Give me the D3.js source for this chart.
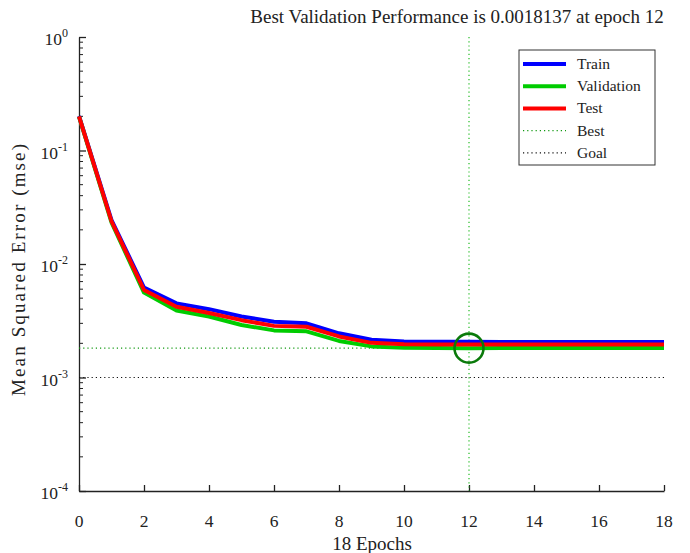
<!DOCTYPE html>
<html><head><meta charset="utf-8">
<script src="https://cdn.jsdelivr.net/npm/d3@7/dist/d3.min.js"></script>
<style>body{margin:0;background:#fff}svg{display:block}text{font-family:"Liberation Serif","Times New Roman",serif;fill:#222}</style>
</head><body><svg id="c" width="690" height="553"></svg>
<script>
const epochs = d3.range(0, 19);
const trainErr = [0.201, 0.0244, 0.0062, 0.0045, 0.0040, 0.00345, 0.0031, 0.0030, 0.00245, 0.00215, 0.00208, 0.00207, 0.00207, 0.00206, 0.00206, 0.00206, 0.00206, 0.00206, 0.00206];
const validErr = [0.199, 0.0232, 0.0056, 0.0039, 0.00345, 0.0029, 0.0026, 0.00255, 0.0021, 0.00188, 0.00183, 0.00182, 0.0018137, 0.00182, 0.00182, 0.00182, 0.00182, 0.00182, 0.00182];
const testErr  = [0.200, 0.0238, 0.0059, 0.0042, 0.0037, 0.0032, 0.00285, 0.0028, 0.0023, 0.00202, 0.00196, 0.00195, 0.00195, 0.00195, 0.00195, 0.00195, 0.00195, 0.00195, 0.00195];
const bestEpoch = 12, bestPerf = 0.0018137, goal = 0.001;
const xTicks = [0,2,4,6,8,10,12,14,16,18];
const yTicks = [1, 0.1, 0.01, 0.001, 0.0001];
const yExps = ["0","-1","-2","-3","-4"];
const seriesNames = ["Train","Validation","Test"];
const seriesColors = ["#0000ff","#00cc00","#ff0000"];

const svg = d3.select("#c");
const L = 79, R = 664, T = 37, B = 491;
const x = d3.scaleLinear().domain([0,18]).range([L,R]);
const y = d3.scaleLog().domain([1e-4,1]).range([B,T]);

// minor ticks
const minor = [];
for (let k=-4;k<0;k++) for (let j=2;j<=9;j++) minor.push(j*Math.pow(10,k));
svg.append("g").selectAll("line").data(minor).join("line")
  .attr("x1",L).attr("x2",L+4).attr("y1",d=>y(d)).attr("y2",d=>y(d))
  .attr("stroke","#222").attr("stroke-width",1);

// axes
const yAxis = d3.axisLeft(y).tickValues(yTicks).tickSizeInner(-7).tickSizeOuter(0).tickFormat("");
const gy = svg.append("g").attr("transform",`translate(${L},0)`).call(yAxis);
const xAxis = d3.axisBottom(x).tickValues(xTicks).tickSizeInner(-6).tickSizeOuter(0).tickFormat("");
const gx = svg.append("g").attr("transform",`translate(0,${B})`).call(xAxis);
[gx,gy].forEach(g=>{g.selectAll("path,line").attr("stroke","#222").attr("stroke-width",1.3);});

// tick labels
svg.append("g").selectAll("text").data(xTicks).join("text")
  .attr("x",d=>x(d)).attr("y",B+36).attr("text-anchor","middle").attr("font-size",17.5).text(d=>d);
const yl = svg.append("g").selectAll("text").data(yTicks).join("text")
  .attr("x",L-11).attr("y",d=>y(d)+8).attr("text-anchor","end").attr("font-size",17.5);
yl.append("tspan").text("10");
yl.append("tspan").attr("dy",-8).attr("font-size",12).text((d,i)=>yExps[i]);

// goal & best reference lines
svg.append("line").attr("x1",L).attr("x2",R).attr("y1",y(goal)).attr("y2",y(goal))
  .attr("stroke","#111").attr("stroke-width",1.2).attr("stroke-dasharray","1.2,3");
svg.append("line").attr("x1",L).attr("x2",R).attr("y1",y(bestPerf)).attr("y2",y(bestPerf))
  .attr("stroke","#119911").attr("stroke-width",1.2).attr("stroke-dasharray","1.2,3");
svg.append("line").attr("x1",x(bestEpoch)).attr("x2",x(bestEpoch)).attr("y1",T).attr("y2",B)
  .attr("stroke","#22bb22").attr("stroke-width",1.2).attr("stroke-dasharray","1.2,3");

// series
const line = d3.line().x((d,i)=>x(epochs[i])).y(d=>y(d));
[trainErr, validErr, testErr].forEach((s,i)=>{
  svg.append("path").datum(s).attr("d",line).attr("fill","none")
    .attr("stroke",seriesColors[i]).attr("stroke-width",4).attr("stroke-linejoin","round");
});

// best circle
svg.append("circle").attr("cx",x(bestEpoch)).attr("cy",y(bestPerf)).attr("r",14.5)
  .attr("fill","none").attr("stroke","#0a7a0a").attr("stroke-width",2.6);

// title & labels
svg.append("text").attr("x",457).attr("y",23).attr("text-anchor","middle").attr("font-size",19)
  .text("Best Validation Performance is 0.0018137 at epoch 12");
svg.append("text").attr("x",372).attr("y",550).attr("text-anchor","middle").attr("font-size",19).text("18 Epochs");
svg.append("text").attr("transform","translate(25,270) rotate(-90)").attr("text-anchor","middle")
  .attr("font-size",19).attr("textLength",252).attr("lengthAdjust","spacing").text("Mean Squared Error  (mse)");

// legend
const lg = svg.append("g");
lg.append("rect").attr("x",519).attr("y",50).attr("width",136).attr("height",115)
  .attr("fill","#fff").attr("stroke","#333").attr("stroke-width",1);
const legendItems = [
  {name:"Train", color:seriesColors[0], dash:null, w:4},
  {name:"Validation", color:seriesColors[1], dash:null, w:4},
  {name:"Test", color:seriesColors[2], dash:null, w:4},
  {name:"Best", color:"#119911", dash:"1.2,3", w:1.2},
  {name:"Goal", color:"#111", dash:"1.2,3", w:1.2}
];
legendItems.forEach((d,i)=>{
  const yy = 64 + i*22.2;
  lg.append("line").attr("x1",523).attr("x2",566).attr("y1",yy).attr("y2",yy)
    .attr("stroke",d.color).attr("stroke-width",d.w).attr("stroke-dasharray",d.dash);
  lg.append("text").attr("x",577).attr("y",yy+5).attr("font-size",15.5).text(d.name);
});
</script></body></html>
